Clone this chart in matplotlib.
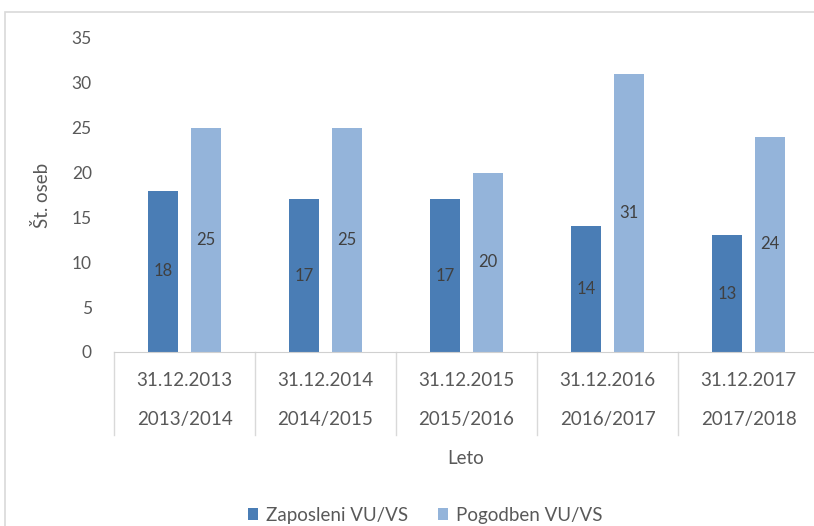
import numpy as np
import matplotlib.pyplot as plt
from matplotlib.patches import Rectangle
from matplotlib.lines import Line2D

dates = ['31.12.2013', '31.12.2014', '31.12.2015', '31.12.2016', '31.12.2017']
years = ['2013/2014', '2014/2015', '2015/2016', '2016/2017', '2017/2018']
zaposleni = [18, 17, 17, 14, 13]
pogodbeni = [25, 25, 20, 31, 24]

plt.rcParams['font.family'] = ['Lato', 'DejaVu Sans']
txt = '#595959'
c_dark = '#4A7DB5'
c_light = '#94B4DA'

fig = plt.figure(figsize=(8.14, 5.26), dpi=100)
ax = fig.add_axes([114/814, 1 - 352/526, 705/814, 314/526])

x = np.arange(len(dates))
w = 0.215
b1 = ax.bar(x - 0.152, zaposleni, w, color=c_dark, label='Zaposleni VU/VS')
b2 = ax.bar(x + 0.152, pogodbeni, w, color=c_light, label='Pogodben VU/VS')
ax.bar_label(b1, label_type='center', color='#404040', fontsize=12)
ax.bar_label(b2, label_type='center', color='#404040', fontsize=12)

ax.set_xlim(-0.5, 4.5)
ax.set_ylim(0, 35)
ax.set_yticks(range(0, 36, 5))
ax.tick_params(axis='y', length=0, colors=txt, labelsize=12.5, pad=16)
ax.set_xticks([])
for s in ['top', 'right', 'left']:
    ax.spines[s].set_visible(False)
ax.spines['bottom'].set_color('#d0d0d0')

# multi-level category axis
tr = ax.get_xaxis_transform()
for i in range(len(dates) + 1):
    ax.add_line(Line2D([i - 0.5, i - 0.5], [0, -83/314], transform=tr,
                       color='#d9d9d9', lw=1, clip_on=False))
for i in range(len(dates)):
    ax.text(i, -28/314, dates[i], transform=tr, ha='center', va='center',
            color=txt, fontsize=13.5)
    ax.text(i, -68/314, years[i], transform=tr, ha='center', va='center',
            color=txt, fontsize=13.5)

fig.text(466/814, 1 - 458/526, 'Leto', ha='center', va='center', color=txt, fontsize=13.5)
fig.text(42/814, 1 - 195/526, 'Št. oseb', ha='center', va='center', rotation=90,
         color=txt, fontsize=13.5)

fig.legend(handles=[b1, b2], loc='center', bbox_to_anchor=(425/814, 1 - 515/526),
           ncol=2, frameon=False, fontsize=13.5, labelcolor=txt,
           handlelength=0.55, handleheight=0.55, columnspacing=1.6, handletextpad=0.4)

fig.patches.append(Rectangle((5/814, -0.1), 1.2, 1 - 12/526 + 0.1, transform=fig.transFigure,
                             fill=False, edgecolor='#d9d9d9', lw=1.2))

fig.savefig('out.png', dpi=100)
